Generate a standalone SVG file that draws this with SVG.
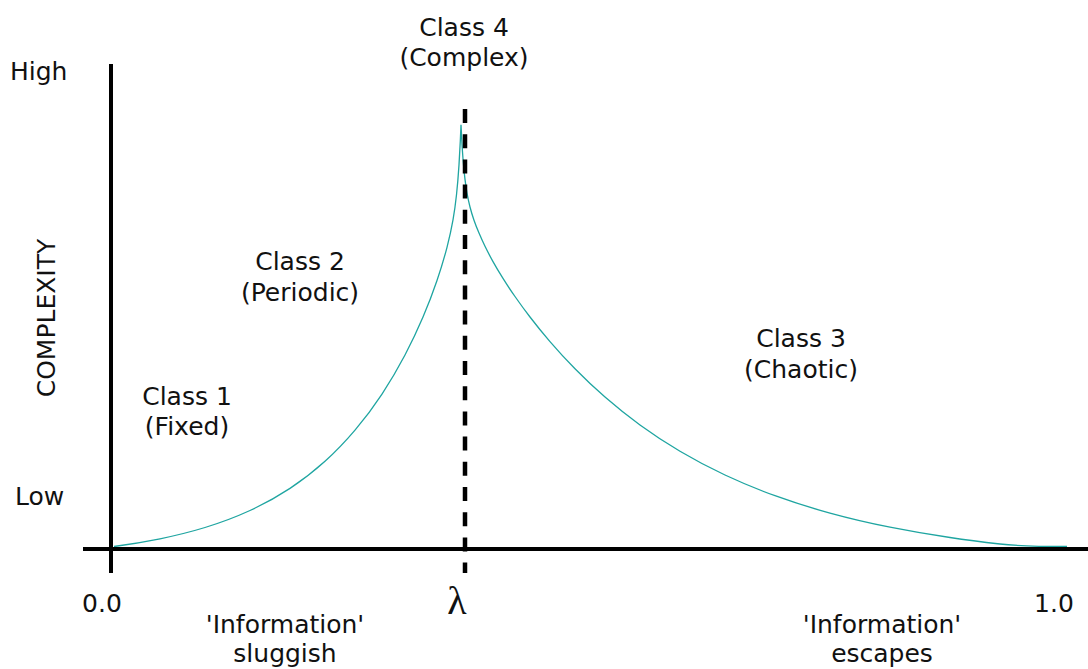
<svg xmlns="http://www.w3.org/2000/svg" width="1088" height="669" viewBox="0 0 1088 669">
<style>
.t{font-family:"DejaVu Sans","Verdana",sans-serif;font-size:25px;fill:#111;text-anchor:middle}
.axis{stroke:#000;stroke-width:4;fill:none}
.curve{stroke:#1fa5a1;stroke-width:1.3;fill:none;stroke-linejoin:miter}
.dash{stroke:#000;stroke-width:4.5;stroke-dasharray:14 11.2;fill:none}
</style>
<rect width="1088" height="669" fill="#fff"/>
<g id="connectors">
<path class="curve" d="M114,546.5 C129.33,544.4 144.67,541.9 160,538.8 C175,535.7 190,532.1 205,527.5 C220,522.9 235,517.4 250,510.5 C263.33,504.4 276.67,497.2 290,488.4 C301.67,480.7 313.33,471.8 325,461.3 C335,452.3 345,442 355,430.2 C364,419.6 373,407.7 382,394.05 C389.67,382.4 397.33,369.6 405,355 C411,343.6 417,331.2 423,317.1 C427.67,306.1 432.33,294.2 437,280.5 C440.33,270.7 443.67,260.1 447,247.3 C449,239.6 451,231.3 453,219.9 C454.17,213.3 455.33,205.6 456.5,194.8 C457.33,187.1 458.17,177.8 459,164.9 C459.43,158.2 459.87,150.3 460.3,141.1 C460.53,136.1 460.77,130.8 461,124.8 C461.33,132.3 461.67,138.4 462,144 C462.33,149.6 462.67,154.4 463,158.7 C463.67,167.3 464.33,173.8 465,179.3 C465.67,184.8 466.33,189.2 467,193 C468,198.7 469,203.1 470,207 C471.33,212.2 472.67,216.4 474,220.2 C475.67,225 477.33,229.2 479,233.1 C481,237.8 483,242.2 485,246.3 C487.67,251.8 490.33,256.8 493,261.6 C496.33,267.6 499.67,273.1 503,278.4 C507,284.8 511,290.8 515,296.5 C520,303.7 525,310.5 530,317 C536.67,325.7 543.33,333.9 550,341.6 C558.33,351.3 566.67,360.3 575,368.8 C585,379 595,388.4 605,397.1 C616.67,407.3 628.33,416.5 640,425 C653.33,434.7 666.67,443.4 680,451.3 C695,460.2 710,468 725,475 C741.67,482.8 758.33,489.7 775,495.7 C793.33,502.4 811.67,508.1 830,513.1 C850,518.6 870,523.2 890,527.2 C910,531.2 930,534.6 950,537.5 C966.67,540 983.33,542.1 1000,544 C1020,546.2 1045,546.5 1067,546.5"/>
<line class="axis" x1="111" y1="64" x2="111" y2="573"/>
<line class="axis" x1="83" y1="549" x2="1088" y2="549"/>
<line class="dash" x1="465" y1="109" x2="465" y2="573"/>
</g>
<g id="label-high"><text class="t" x="10" y="80" style="text-anchor:start">High</text></g>
<g id="label-low"><text class="t" x="15" y="505" style="text-anchor:start">Low</text></g>
<g id="label-complexity"><text class="t" transform="translate(55,318) rotate(-90)">COMPLEXITY</text></g>
<g id="class4"><text class="t" x="464" y="36">Class 4</text><text class="t" x="464" y="66">(Complex)</text></g>
<g id="class2"><text class="t" x="300" y="270">Class 2</text><text class="t" x="300" y="301">(Periodic)</text></g>
<g id="class1"><text class="t" x="187" y="405">Class 1</text><text class="t" x="187" y="435">(Fixed)</text></g>
<g id="class3"><text class="t" x="801" y="347">Class 3</text><text class="t" x="801" y="378">(Chaotic)</text></g>
<g id="tick-0"><text class="t" x="102" y="612">0.0</text></g>
<g id="tick-1"><text class="t" x="1054" y="612">1.0</text></g>
<g id="lambda"><text x="457" y="614" style="font-family:'Liberation Serif','Times New Roman',serif;font-size:40px;text-anchor:middle;fill:#111">λ</text></g>
<g id="info-left"><text class="t" x="285" y="633">'Information'</text><text class="t" x="285" y="662">sluggish</text></g>
<g id="info-right"><text class="t" x="882" y="633">'Information'</text><text class="t" x="882" y="662">escapes</text></g>
</svg>
